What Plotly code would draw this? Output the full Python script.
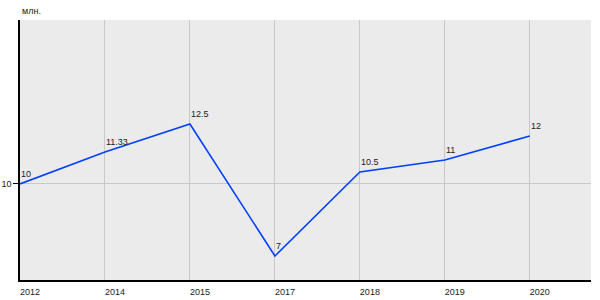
import plotly.graph_objects as go

years = ["2012", "2014", "2015", "2017", "2018", "2019", "2020"]
values = [10, 11.33, 12.5, 7, 10.5, 11, 12]
labels = ["10", "11.33", "12.5", "7", "10.5", "11", "12"]
y_ticks = [10]
unit = "млн."

xs = list(range(len(years)))
fig = go.Figure()
fig.add_trace(go.Scatter(
    x=xs, y=values, mode="lines",
    line=dict(color="rgb(0,64,255)", width=1.6),
    cliponaxis=False, hoverinfo="skip",
))
for x, v, t in zip(xs, values, labels):
    fig.add_annotation(x=x, y=v, text=t, showarrow=False,
                       xanchor="left", yanchor="bottom", xshift=-1, yshift=3,
                       font=dict(family="Liberation Sans, Arial", size=9, color="#222"))
fig.update_layout(
    width=600, height=300,
    margin=dict(l=20, r=9, t=20, b=20),
    paper_bgcolor="white", plot_bgcolor="#ebebeb",
    showlegend=False,
    font=dict(family="Liberation Sans, Arial", size=9, color="#222"),
)
fig.update_xaxes(
    range=[0, 6.72], tickmode="array",
    tickvals=xs, ticktext=years,
    showgrid=True, gridcolor="#c8c8c8", gridwidth=1,
    showline=True, linecolor="black", linewidth=1.5,
    zeroline=False, ticks="", ticklabelshift=10, ticklabelstandoff=2,
    tickfont=dict(size=9, color="#222"), automargin=False,
)
fig.update_yaxes(
    range=[6, 16.83], tickmode="array", tickvals=y_ticks,
    ticktext=[str(v) for v in y_ticks],
    showgrid=True, gridcolor="#c8c8c8", gridwidth=1,
    showline=True, linecolor="black", linewidth=1.5,
    zeroline=False, ticks="outside", ticklen=5, tickcolor="black",
    tickfont=dict(size=9, color="#222"), automargin=False,
)
fig.add_annotation(text=unit, xref="paper", yref="paper", x=0, y=1,
                   xanchor="left", yanchor="bottom", yshift=2, showarrow=False,
                   font=dict(size=9, color="#222"))
fig.write_html("out.html")
